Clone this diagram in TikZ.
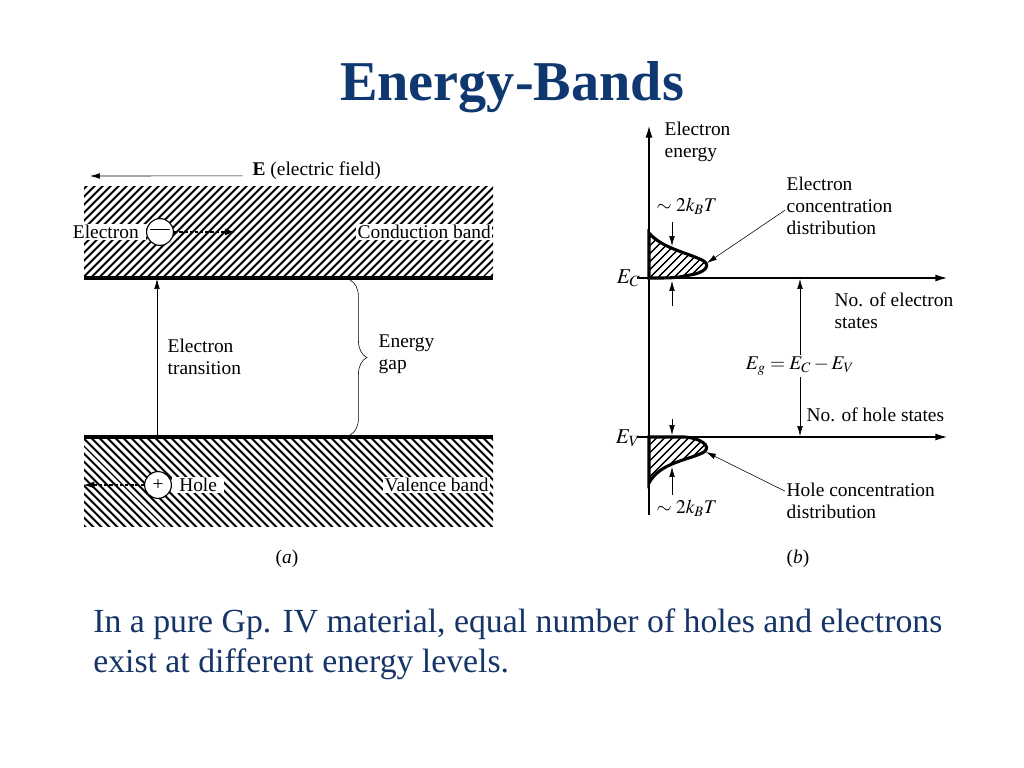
\documentclass[tikz,border=0pt]{standalone}
\usepackage{mathptmx}
\usepackage{fontspec}
\setmainfont{Liberation Serif}
\usetikzlibrary{arrows.meta,patterns.meta,decorations.pathreplacing}
\definecolor{titleblue}{RGB}{16,56,112}
\definecolor{textblue}{RGB}{22,52,102}

\begin{document}
\begin{tikzpicture}[x=0.025cm,y=-0.025cm,
    >={Latex[length=7pt,width=4pt]},
    lbl/.style={font=\fontsize{13.8}{15.6}\selectfont,inner sep=1pt},
    particle/.style={circle,draw,thick,fill=white,minimum size=0.67cm,inner sep=0pt,font=\fontsize{13.8}{15.6}\selectfont},
    drift/.style={line width=1.2pt,dash pattern=on 2.5pt off 1.2pt,-{Latex[length=8pt,width=5pt]}},
    axis/.style={line width=1.4pt,-{Latex[length=9pt,width=5pt]}},
    dist/.style={line width=2.2pt,pattern={Lines[angle=45,distance=4pt,line width=1.1pt]}}]
    \useasboundingbox (0,0) rectangle (1024,768);
    \node [font=\fontsize{40}{48}\selectfont\bfseries,text=titleblue,anchor=base] (title) at (512,101) {Energy-Bands};

    % (a) bands
    \fill [pattern={Lines[angle=45,distance=4pt,line width=1.5pt]}] (84,186) rectangle (493,278);
    \fill [pattern={Lines[angle=-45,distance=4pt,line width=1.5pt]}] (84,437) rectangle (493,526);
    \draw [line width=2.2pt] (84,278) -- (493,278);
    \draw [line width=2.2pt] (84,437) -- (493,437);

    \node [lbl,anchor=west] (field) at (251,171) {\textbf{E} (electric field)};
    \coordinate (fieldend) at (90,176);
    \draw [->] ([xshift=-6pt,yshift=-3.5pt]field.west) -- (fieldend);

    \node [particle] (elec) at (160,232) {---};
    \node [lbl,fill=white,anchor=east,inner xsep=5pt] (elabel) at (elec.west) {Electron};
    \coordinate (edrift) at (236,232);
    \draw [drift] (elec) -- (edrift);
    \node [lbl,fill=white,anchor=west] (cband) at (356,232) {Conduction band};

    \node [particle] (hole) at (158,485) {+};
    \node [lbl,fill=white,anchor=west,inner xsep=5pt] (hlabel) at (hole.east) {Hole};
    \coordinate (hdrift) at (83,485);
    \draw [drift] (hole) -- (hdrift);
    \node [lbl,fill=white,anchor=west] (vband) at (383,485) {Valence band};

    \coordinate (vtop) at (157,437);
    \coordinate (cbot) at (157,279);
    \draw [->] (vtop) -- (cbot);
    \node [lbl,anchor=west,align=left] (trans) at (166,357) {Electron\\transition};
    \coordinate (gaptop) at (350,280);
    \coordinate (gapbot) at (350,435);
    \draw [decorate,decoration={brace,amplitude=12pt}] (gaptop) -- (gapbot);
    \node [lbl,anchor=west,align=left] (gap) at (377,354) {Energy\\gap};
    \node [lbl] (capa) at (287,559) {(\textit{a})};

    % (b) distributions
    \coordinate (origin) at (649,515);
    \coordinate (axtop) at (649,125);
    \draw [axis] (origin) -- (axtop);
    \coordinate (ecl) at (637,278);
    \coordinate (ecr) at (948,278);
    \coordinate (evl) at (637,437);
    \coordinate (evr) at (948,437);
    \draw [axis] (ecl) -- (ecr);
    \draw [axis] (evl) -- (evr);
    \node [lbl,anchor=west,align=left] (energy) at (663,142) {Electron\\energy};
    \node [lbl,anchor=base east,font=\fontsize{15}{17}\selectfont] (ec) at (642,283) {$E_C$};
    \node [lbl,anchor=base east,font=\fontsize{15}{17}\selectfont] (ev) at (642,443) {$E_V$};

    \draw [dist] (649,233) .. controls (662,248) and (685,252) .. (702,260)
        .. controls (712,265) and (705,273) .. (690,275)
        .. controls (675,278) .. (649,278) -- cycle;
    \draw [dist] (649,437) -- (685,437) .. controls (700,438) and (712,446) .. (704,452)
        .. controls (690,460) and (660,462) .. (649,483) -- cycle;

    \node [lbl,anchor=west] (kta) at (655,206) {$\sim 2k_BT$};
    \coordinate (kta1) at (672,222);
    \coordinate (kta2) at (672,246);
    \coordinate (kta3) at (672,306);
    \coordinate (kta4) at (672,281);
    \draw [->] (kta1) -- (kta2);
    \draw [->] (kta3) -- (kta4);
    \node [lbl,anchor=west] (ktb) at (655,508) {$\sim 2k_BT$};
    \coordinate (ktb1) at (672,419);
    \coordinate (ktb2) at (672,435);
    \coordinate (ktb3) at (672,495);
    \coordinate (ktb4) at (672,467);
    \draw [->] (ktb1) -- (ktb2);
    \draw [->] (ktb3) -- (ktb4);

    \node [lbl,anchor=west,align=left] (econc) at (785,206) {Electron\\concentration\\distribution};
    \coordinate (etip) at (707,263);
    \draw [->] ([yshift=-3pt]econc.west) -- (etip);
    \node [lbl,anchor=west,align=left] (hconc) at (785,501) {Hole concentration\\distribution};
    \coordinate (htip) at (706,452);
    \draw [->] ([yshift=7pt]hconc.west) -- (htip);

    \node [lbl] (eg) at (800,366) {$E_g = E_C - E_V$};
    \coordinate (egtop) at (800,279);
    \coordinate (egbot) at (800,436);
    \draw [->] (eg.north) -- (egtop);
    \draw [->] (eg.south) -- (egbot);
    \node [lbl,anchor=west,align=left] (nes) at (833,311) {No. of electron\\states};
    \node [lbl,anchor=west] (nhs) at (805,415) {No. of hole states};
    \node [lbl] (capb) at (798,559) {(\textit{b})};

    \node [font=\fontsize{24}{28.4}\selectfont,text=textblue,anchor=base west,align=left,inner sep=0pt] (summary) at (93,672)
        {In a pure Gp. IV material, equal number of holes and electrons\\exist at different energy levels.};
\end{tikzpicture}
\end{document}
